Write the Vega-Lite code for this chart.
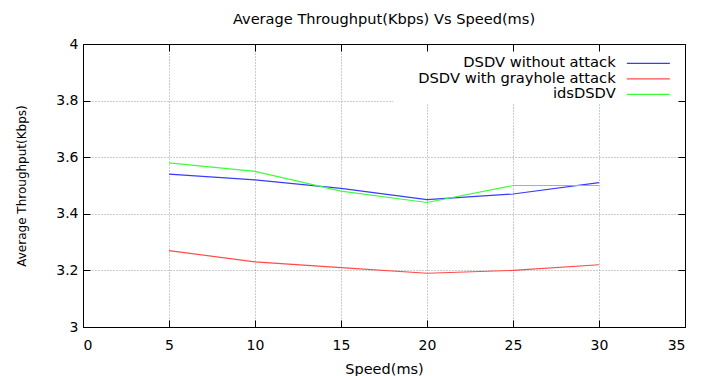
{
  "$schema": "https://vega.github.io/schema/vega-lite/v6.json",
  "autosize": {"type": "none"},
  "padding": {"left": 83, "top": 44, "right": 28, "bottom": 49},
  "width": 602,
  "height": 283,
  "background": "white",
  "title": {"text": "Average Throughput(Kbps) Vs Speed(ms)", "font": "DejaVu Sans", "fontSize": 14.6, "fontWeight": "normal", "color": "#000", "offset": 10, "anchor": "middle"},
  "config": {
    "view": {"stroke": null},
    "axis": {"labelFont": "DejaVu Sans", "titleFont": "DejaVu Sans", "labelFontSize": 14, "titleFontSize": 14.5, "titleFontWeight": "normal", "labelColor": "#000", "titleColor": "#000", "domainColor": "#000", "tickColor": "#000", "gridColor": "#999", "gridDash": [1, 2], "gridWidth": 1}
  },
  "data": {"values": [
    {"speed": 5, "series": "DSDV without attack", "tp": 3.54},
    {"speed": 10, "series": "DSDV without attack", "tp": 3.52},
    {"speed": 15, "series": "DSDV without attack", "tp": 3.49},
    {"speed": 20, "series": "DSDV without attack", "tp": 3.45},
    {"speed": 25, "series": "DSDV without attack", "tp": 3.47},
    {"speed": 30, "series": "DSDV without attack", "tp": 3.51},
    {"speed": 5, "series": "DSDV with grayhole attack", "tp": 3.27},
    {"speed": 10, "series": "DSDV with grayhole attack", "tp": 3.23},
    {"speed": 15, "series": "DSDV with grayhole attack", "tp": 3.21},
    {"speed": 20, "series": "DSDV with grayhole attack", "tp": 3.19},
    {"speed": 25, "series": "DSDV with grayhole attack", "tp": 3.20},
    {"speed": 30, "series": "DSDV with grayhole attack", "tp": 3.22},
    {"speed": 5, "series": "idsDSDV", "tp": 3.58},
    {"speed": 10, "series": "idsDSDV", "tp": 3.55},
    {"speed": 15, "series": "idsDSDV", "tp": 3.48},
    {"speed": 20, "series": "idsDSDV", "tp": 3.44},
    {"speed": 25, "series": "idsDSDV", "tp": 3.50},
    {"speed": 30, "series": "idsDSDV", "tp": 3.50}
  ]},
  "resolve": {"axis": {"x": "independent", "y": "independent"}},
  "layer": [
    {
      "mark": {"type": "line", "strokeWidth": 1.2},
      "encoding": {
        "x": {"field": "speed", "type": "quantitative", "scale": {"domain": [0, 35], "nice": false, "zero": false},
              "axis": {"title": "Speed(ms)", "values": [0, 5, 10, 15, 20, 25, 30, 35], "format": "d", "tickSize": -7, "labelPadding": 18, "titlePadding": 10, "grid": true, "domainWidth": 1}},
        "y": {"field": "tp", "type": "quantitative", "scale": {"domain": [3, 4], "nice": false, "zero": false},
              "axis": {"title": "Average Throughput(Kbps)", "titleFontSize": 12, "values": [3, 3.2, 3.4, 3.6, 3.8, 4], "format": "~g", "tickSize": -7, "labelPadding": 12, "titlePadding": 27, "grid": true, "domainWidth": 1}},
        "color": {"field": "series", "type": "nominal",
                  "scale": {"domain": ["DSDV without attack", "DSDV with grayhole attack", "idsDSDV"], "range": ["#3a3aff", "#ff4a4a", "#3aff3a"]},
                  "legend": {"title": null, "orient": "none", "legendX": 558, "legendY": 12, "symbolType": "M-5,0H5", "symbolSize": 74, "symbolStrokeWidth": 1.3, "labelAlign": "right", "labelOffset": -40, "labelFont": "DejaVu Sans", "labelFontSize": 14.7, "labelColor": "#000", "rowPadding": -0.5, "padding": 0, "labelLimit": 300}}
      }
    },
    {
      "mark": {"type": "rect", "color": "white"},
      "encoding": {
        "x": {"datum": 18.07, "type": "quantitative", "axis": null},
        "x2": {"datum": 34.97},
        "y": {"datum": 3.79, "type": "quantitative", "axis": null},
        "y2": {"datum": 3.997}
      }
    },
    {
      "mark": {"type": "line", "opacity": 0},
      "encoding": {
        "x": {"field": "speed", "type": "quantitative", "axis": {"orient": "top", "title": null, "labels": false, "values": [0, 5, 10, 15, 20, 25, 30, 35], "tickSize": -7, "grid": false, "zindex": 1}},
        "y": {"field": "tp", "type": "quantitative", "axis": {"orient": "right", "title": null, "labels": false, "values": [3, 3.2, 3.4, 3.6, 3.8, 4], "tickSize": -7, "grid": false, "zindex": 1}},
        "detail": {"field": "series"}
      }
    }
  ]
}
